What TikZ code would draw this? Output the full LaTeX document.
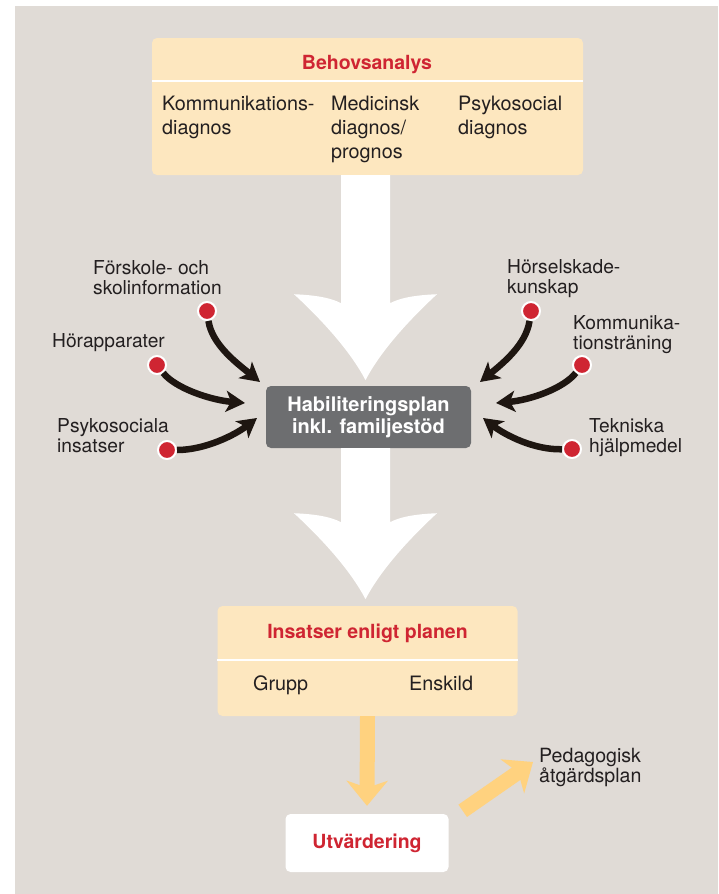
\documentclass[tikz,border=0pt]{standalone}
\usepackage{fontspec}
\setmainfont{TeX Gyre Heros}
\usetikzlibrary{arrows.meta}

\definecolor{paper}{HTML}{E0DBD6}
\definecolor{peach}{HTML}{FDE7BF}
\definecolor{signal}{HTML}{CF2532}
\definecolor{slate}{HTML}{6D6E70}
\definecolor{amber}{HTML}{FFD27F}
\definecolor{ink}{HTML}{1E1611}
\definecolor{txt}{HTML}{231F20}

\begin{document}
\begin{tikzpicture}[
    x = 1pt, y = -1pt, % one unit = one pixel, y grows downwards
    > = {Stealth[length=19pt, width=21pt, inset=5pt]}, % arrow head style
    every node/.style = {inner sep=0pt, text=txt,
      font=\fontsize{19.2}{20}\selectfont}
 ]

 \tikzstyle{panel} = [rectangle, rounded corners=5pt, fill=peach]
 \tikzstyle{planbox} = [
     rectangle,
     rounded corners=5pt,
     fill=slate,
     text=white,
     align=center,
     font=\bfseries\fontsize{20}{21.5}\selectfont]
 \tikzstyle{evalbox} = [
     rectangle,
     rounded corners=5pt,
     fill=white,
     text=signal,
     font=\bfseries\fontsize{19.5}{22}\selectfont]
 \tikzstyle{heading} = [anchor=base, text=signal,
     font=\bfseries\fontsize{19.5}{22}\selectfont]
 \tikzstyle{column} = [anchor=north west, align=left,
     font=\fontsize{19.8}{24}\selectfont]
 \tikzstyle{side} = [anchor=north west, align=left]
 \tikzstyle{dot} = [circle, fill=signal, draw=white, line width=2pt,
     minimum size=18pt]
 \tikzstyle{feed} = [->, draw=ink, line width=6.5pt]
 \tikzstyle{flow} = [-{Stealth[length=25pt, width=41pt, inset=7pt]},
     draw=amber, line width=15pt]
 \tikzstyle{divider} = [draw=white, line width=2.5pt]
 \tikzstyle{bigarrow} = [fill=white]

 \useasboundingbox (0,0) rectangle (718,894);
 \fill[paper] (15,6) rectangle (718,894);

 % needs analysis
 \node[panel, minimum width=431pt, minimum height=137pt] (behov) at (367.5,106.5) {};
 \draw[divider] ([yshift=-43pt]behov.north west) -- ([yshift=-43pt]behov.north east);
 \node[heading] (behovtitle) at (367,69) {Behovsanalys};
 \node[column] (kommdiag) at (162,96) {Kommunikations-\\diagnos};
 \node[column] (meddiag) at (331,96) {Medicinsk\\diagnos/\\prognos};
 \node[column] (psykdiag) at (458,96) {Psykosocial\\diagnos};

 % plan
 \node[planbox, minimum width=205pt, minimum height=62pt] (hab) at (368.5,417)
   {Habiliteringsplan\\inkl. familjestöd};

 % measures
 \node[panel, minimum width=300pt, minimum height=110pt] (ins) at (367.5,661) {};
 \draw[divider] ([yshift=-54pt]ins.north west) -- ([yshift=-54pt]ins.north east);
 \node[heading] (institle) at (367.5,638) {Insatser enligt planen};
 \node[anchor=base west, font=\fontsize{19.8}{24}\selectfont] (grupp) at (253,690) {Grupp};
 \node[anchor=base west, font=\fontsize{19.8}{24}\selectfont] (enskild) at (409,690) {Enskild};

 \node[evalbox, minimum width=163pt, minimum height=58pt] (eval) at (367,843) {Utvärdering};
 \node[side, font=\fontsize{19.6}{20}\selectfont] (ped) at (539,748) {Pedagogisk\\åtgärdsplan};

 % big white arrows
 \begin{scope}[shift={([xshift=-2pt]behov.south)}]
  \fill[bigarrow] (-24.5,0) -- (-24.5,128)
    .. controls (-34,123) and (-48,120) .. (-71.5,119)
    .. controls (-45.5,143) and (-15.5,175) .. (0,205)
    .. controls (15.5,175) and (45.5,143) .. (71.5,119)
    .. controls (48,120) and (34,123) .. (24.5,128) -- (24.5,0) -- cycle;
 \end{scope}
 \begin{scope}[shift={([xshift=-3pt]hab.south)}]
  \fill[bigarrow] (-24.5,0) -- (-24.5,74)
    .. controls (-34,69) and (-48,66) .. (-71.5,65)
    .. controls (-45.5,89) and (-15.5,121) .. (0,151)
    .. controls (15.5,121) and (45.5,89) .. (71.5,65)
    .. controls (48,66) and (34,69) .. (24.5,74) -- (24.5,0) -- cycle;
 \end{scope}

 % yellow arrows
 \draw[flow] (ins.south) -- ([yshift=8pt]eval.north);
 \coordinate (evalout) at ([xshift=14pt,yshift=3pt]eval.north east);
 \coordinate (pedtip) at (533,762);
 \draw[flow] (evalout) -- (pedtip);

 % inputs, left
 \node[side] (forsk) at (93,260) {Förskole- och\\skolinformation};
 \node[side] (horapp) at (52,333) {Hörapparater};
 \node[side] (psyk) at (57,418) {Psykosociala\\insatser};
 \node[dot] (forskdot) at (207,311) {};
 \node[dot] (horappdot) at (157,365) {};
 \node[dot] (psykdot) at (167,450) {};
 \coordinate (forsktip) at (260,382);
 \coordinate (horapptip) at (245,403);
 \coordinate (psyktip) at (257,418);
 \draw[feed] (forskdot) .. controls (212,345) and (238,364) .. (forsktip);
 \draw[feed] (horappdot) .. controls (175,388) and (210,400) .. (horapptip);
 \draw[feed] (psykdot) .. controls (205,450) and (235,435) .. (psyktip);

 % inputs, right
 \node[side] (horsel) at (507,259) {Hörselskade-\\kunskap};
 \node[side] (kommtr) at (573,315) {Kommunika-\\tionsträning};
 \node[side] (tekn) at (589,418) {Tekniska\\hjälpmedel};
 \node[dot] (horseldot) at (531,311) {};
 \node[dot] (kommtrdot) at (582,365) {};
 \node[dot] (tekndot) at (572,449) {};
 \coordinate (horseltip) at (480,382);
 \coordinate (kommtrtip) at (496,403);
 \coordinate (tekntip) at (483,418);
 \draw[feed] (horseldot) .. controls (526,345) and (502,364) .. (horseltip);
 \draw[feed] (kommtrdot) .. controls (564,388) and (531,400) .. (kommtrtip);
 \draw[feed] (tekndot) .. controls (534,450) and (505,435) .. (tekntip);
\end{tikzpicture}
\end{document}
